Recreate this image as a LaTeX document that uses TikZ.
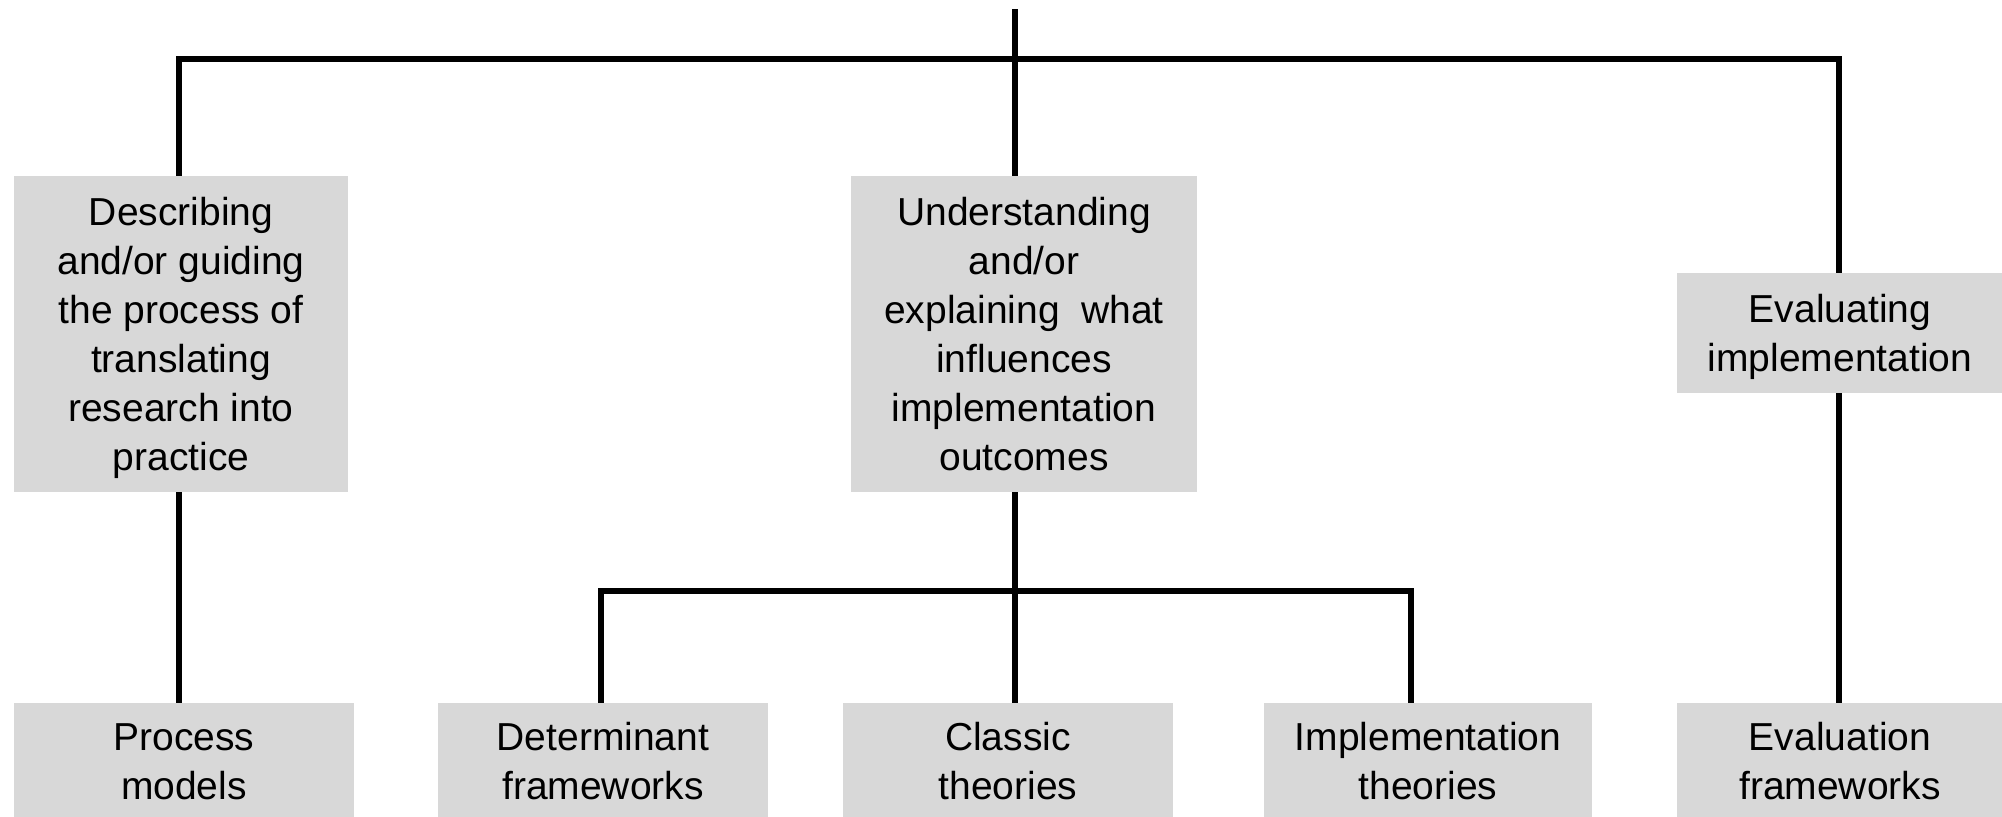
\documentclass[tikz,border=0pt]{standalone}
\usepackage{fontspec}
\setmainfont{Liberation Sans}
\definecolor{boxgray}{RGB}{216,216,216}
\begin{document}
\begin{tikzpicture}[x=0.5pt,y=-0.5pt,
  catbox/.style={fill=boxgray,draw=none,inner sep=0pt,align=center,
    font=\fontsize{19.5pt}{24.5pt}\selectfont},
  conn/.style={line width=3.4pt,black}]
\useasboundingbox (0,0) rectangle (2002,816);
\clip (0,0) rectangle (2002,816);

% upper level boxes (last lines smashed so the text centres on its baselines)
\node[catbox,minimum width=167pt,minimum height=158pt] (b1) at (181,334)
  {Describing\\and/or guiding\\the process of\\translating\\research into\\\smash{practice}};
\node[catbox,minimum width=173pt,minimum height=158pt] (b2) at (1024,334)
  {Understanding\\and/or\\explaining~ what\\influences\\implementation\\outcomes};
\node[catbox,minimum width=163pt,minimum height=60pt] (b3) at (1840,333)
  {Evaluating\\\smash{implementation}};

% lower level boxes
\node[catbox,minimum width=170pt,minimum height=58.5pt] (pm) at (184,761.5)
  {Process\\models};
\node[catbox,minimum width=165pt,minimum height=58.5pt] (df) at (603,761.5)
  {Determinant\\frameworks};
\node[catbox,minimum width=165pt,minimum height=58.5pt] (ct) at (1008,761.5)
  {Classic\\theories};
\node[catbox,minimum width=164pt,minimum height=58.5pt] (it) at (1428,761.5)
  {Implementation\\theories};
\node[catbox,minimum width=163pt,minimum height=58.5pt] (ef) at (1840,761.5)
  {Evaluation\\frameworks};

% junction points of the tree
\coordinate (top) at (1015,9);
\coordinate (busL) at (179,59);
\coordinate (busR) at (1839,59);
\coordinate (bus2L) at (601,591);
\coordinate (bus2R) at (1411,591);

% connectors
\draw[conn] (top) -- (top |- b2.north);
\draw[conn] (busL |- b1.north) -- (busL) -- (busR) -- (busR |- b3.north);
\draw[conn] (busL |- b1.south) -- (busL |- pm.north);
\draw[conn] (top |- b2.south) -- (top |- ct.north);
\draw[conn] (bus2L |- df.north) -- (bus2L) -- (bus2R) -- (bus2R |- it.north);
\draw[conn] (busR |- b3.south) -- (busR |- ef.north);
\end{tikzpicture}
\end{document}
